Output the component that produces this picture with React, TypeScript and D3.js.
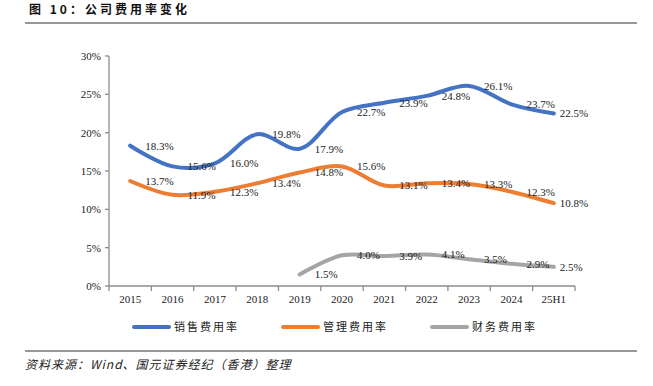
import React from "react";
import * as d3 from "d3";

const categories = ["2015", "2016", "2017", "2018", "2019", "2020", "2021", "2022", "2023", "2024", "25H1"];
const salesRate = [18.3, 15.6, 16.0, 19.8, 17.9, 22.7, 23.9, 24.8, 26.1, 23.7, 22.5];
const adminRate = [13.7, 11.9, 12.3, 13.4, 14.8, 15.6, 13.1, 13.4, 13.3, 12.3, 10.8];
const financeRate: (number | null)[] = [null, null, null, null, 1.5, 4.0, 3.9, 4.1, 3.5, 2.9, 2.5];
const yTicks = [0, 5, 10, 15, 20, 25, 30];
const seriesNames = ["销售费用率", "管理费用率", "财务费用率"];
const seriesColors = ["#4472C4", "#ED7D31", "#A5A5A5"];

const W = 653;
const H = 386;
const plot = { left: 109, right: 575, top: 56, bottom: 286 };
const serif = "'Liberation Serif', 'Times New Roman', serif";
const cjk = "'Noto Sans CJK SC', sans-serif";

export default function App() {
  const x = d3.scaleBand<string>().domain(categories).range([plot.left, plot.right]);
  const y = d3.scaleLinear().domain([0, 30]).range([plot.bottom, plot.top]);
  const cx = (c: string) => (x(c) ?? 0) + x.bandwidth() / 2;

  const series = [salesRate, adminRate, financeRate];
  const line = d3
    .line<[string, number | null]>()
    .defined((d) => d[1] != null)
    .x((d) => cx(d[0]))
    .y((d) => y(d[1] as number))
    .curve(d3.curveCatmullRom.alpha(0.5));

  const boundaries = d3.range(categories.length + 1).map((i) => plot.left + i * x.step());
  const legendX = [134, 283, 432];

  return (
    <svg width={W} height={H} style={{ position: "absolute", left: 0, top: 0, background: "#fff" }}>
      <text x={29} y={14} fontFamily={cjk} fontSize={12} fontWeight="bold" letterSpacing={3} fill="#111">
        图 10：公司费用率变化
      </text>
      <line x1={25} x2={637} y1={23} y2={23} stroke="#333" strokeWidth={1} />

      {/* y axis */}
      <line x1={plot.left} x2={plot.left} y1={plot.top} y2={plot.bottom} stroke="#8c8c8c" strokeWidth={1.3} />
      {yTicks.map((t) => (
        <g key={t}>
          <line x1={plot.left - 4} x2={plot.left} y1={y(t)} y2={y(t)} stroke="#8c8c8c" strokeWidth={1.3} />
          <text x={101} y={y(t)} dy="0.35em" textAnchor="end" fontFamily={serif} fontSize={11} fill="#222">
            {t}%
          </text>
        </g>
      ))}

      {/* x axis */}
      <line x1={plot.left} x2={plot.right} y1={plot.bottom} y2={plot.bottom} stroke="#8c8c8c" strokeWidth={1.3} />
      {boundaries.map((b, i) => (
        <line key={i} x1={b} x2={b} y1={plot.bottom} y2={plot.bottom + 5} stroke="#8c8c8c" strokeWidth={1.3} />
      ))}
      {categories.map((c) => (
        <text key={c} x={cx(c)} y={303} textAnchor="middle" fontFamily={serif} fontSize={11} fill="#222">
          {c}
        </text>
      ))}

      {/* lines */}
      {series.map((s, si) => (
        <path
          key={si}
          d={line(categories.map((c, i) => [c, s[i]] as [string, number | null])) ?? ""}
          fill="none"
          stroke={seriesColors[si]}
          strokeWidth={4}
          strokeLinecap="round"
        />
      ))}

      {/* labels */}
      {series.map((s, si) =>
        categories.map((c, i) => {
          const v = s[i];
          if (v == null) return null;
          const off = i === categories.length - 1 ? 6 : 15;
          return (
            <text
              key={`${si}-${i}`}
              x={cx(c) + off}
              y={y(v)}
              dy="0.35em"
              fontFamily={serif}
              fontSize={11}
              fill="#222"
            >
              {v.toFixed(1)}%
            </text>
          );
        })
      )}

      {/* legend */}
      {seriesNames.map((n, i) => (
        <g key={n}>
          <line x1={legendX[i]} x2={legendX[i] + 35} y1={327} y2={327} stroke={seriesColors[i]} strokeWidth={4} strokeLinecap="round" />
          <text x={legendX[i] + 40} y={327} dy="0.35em" fontFamily={cjk} fontSize={11} letterSpacing={2} fill="#222">
            {n}
          </text>
        </g>
      ))}

      <line x1={25} x2={637} y1={351} y2={351} stroke="#333" strokeWidth={1} />
      <text x={25} y={369} fontFamily={cjk} fontSize={12} fontStyle="italic" letterSpacing={1} fill="#222">
        资料来源：Wind、国元证券经纪（香港）整理
      </text>
    </svg>
  );
}
